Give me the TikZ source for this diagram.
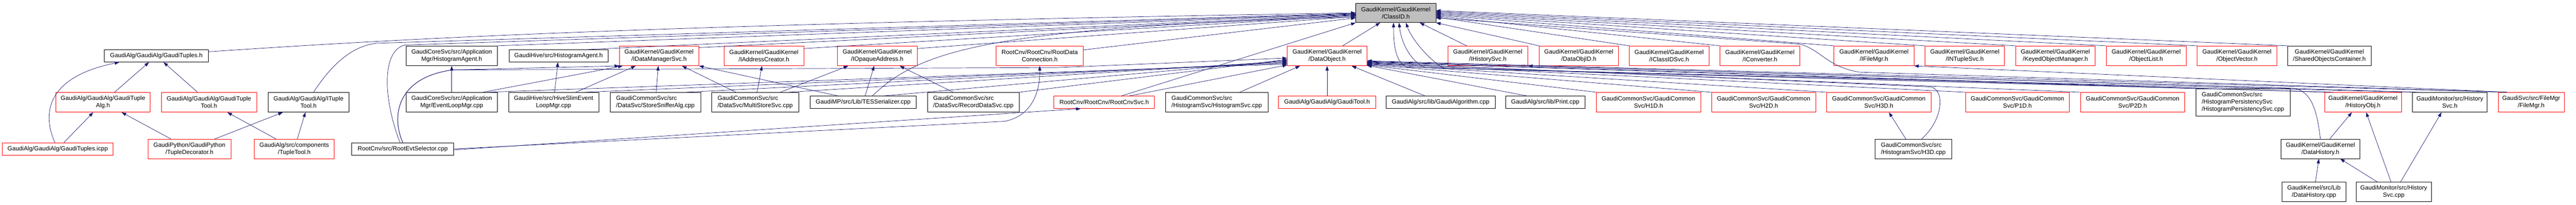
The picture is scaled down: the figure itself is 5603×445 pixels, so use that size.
\documentclass[tikz,border=0pt]{standalone}
\usepackage{fontspec}
\setmainfont{Liberation Sans}
\usetikzlibrary{arrows.meta}
\definecolor{edgeblue}{HTML}{191970}
\definecolor{focusgray}{HTML}{BFBFBF}

\begin{document}
\begin{tikzpicture}[x=1pt, y=-1pt,
    hdr/.style={draw=black, line width=0.8pt, inner sep=1pt, align=center,
      minimum height=43, font=\fontsize{13.2}{16}\selectfont},
    redhdr/.style={hdr, draw=red},
    lefthdr/.style={hdr, align=left},
    focus/.style={hdr, fill=focusgray},
    one/.style={minimum height=27},
    incl/.style={draw=edgeblue, line width=0.8pt, -{Triangle[length=10pt,width=7pt]}}]
  \useasboundingbox (0,0) rectangle (5603,445);
  % the file itself
  \node[focus, minimum width=174, minimum height=42] (cid) at (3036,28) {GaudiKernel/GaudiKernel\\/ClassID.h};
  % first row
  \node[hdr, one, minimum width=226] (tuples) at (340,121.5) {GaudiAlg/GaudiAlg/GaudiTuples.h};
  \node[hdr, minimum width=199] (hagentcore) at (982.5,121.5) {GaudiCoreSvc/src/Application\\Mgr/HistogramAgent.h};
  \node[hdr, one, minimum width=216] (hagenthive) at (1215,121.5) {GaudiHive/src/HistogramAgent.h};
  \node[redhdr, minimum width=173] (idms) at (1433.5,121.5) {GaudiKernel/GaudiKernel\\/IDataManagerSvc.h};
  \node[redhdr, minimum width=173] (iaddr) at (1661.5,121.5) {GaudiKernel/GaudiKernel\\/IAddressCreator.h};
  \node[redhdr, minimum width=174] (iopaque) at (1908,121.5) {GaudiKernel/GaudiKernel\\/IOpaqueAddress.h};
  \node[redhdr, minimum width=189] (rootconn) at (2261.5,121.5) {RootCnv/RootCnv/RootData\\Connection.h};
  \node[redhdr, minimum width=173] (dobj) at (2886.5,121.5) {GaudiKernel/GaudiKernel\\/DataObject.h};
  \node[redhdr, minimum width=174] (ihist) at (3236,121.5) {GaudiKernel/GaudiKernel\\/IHistorySvc.h};
  \node[redhdr, minimum width=172] (dobjid) at (3434,121.5) {GaudiKernel/GaudiKernel\\/DataObjID.h};
  \node[redhdr, minimum width=173] (iclsvc) at (3630.5,121.5) {GaudiKernel/GaudiKernel\\/IClassIDSvc.h};
  \node[redhdr, minimum width=174] (iconv) at (3828,121.5) {GaudiKernel/GaudiKernel\\/IConverter.h};
  \node[redhdr, minimum width=174] (ifile) at (4076,121.5) {GaudiKernel/GaudiKernel\\/IFileMgr.h};
  \node[redhdr, minimum width=173] (intuple) at (4273.5,121.5) {GaudiKernel/GaudiKernel\\/INTupleSvc.h};
  \node[redhdr, minimum width=173] (keyed) at (4470.5,121.5) {GaudiKernel/GaudiKernel\\/KeyedObjectManager.h};
  \node[redhdr, minimum width=174] (olist) at (4668,121.5) {GaudiKernel/GaudiKernel\\/ObjectList.h};
  \node[redhdr, minimum width=173] (ovec) at (4865.5,121.5) {GaudiKernel/GaudiKernel\\/ObjectVector.h};
  \node[hdr, minimum width=181] (shared) at (5066.5,121.5) {GaudiKernel/GaudiKernel\\/SharedObjectsContainer.h};
  % second row
  \node[redhdr, minimum width=206] (tuplealg) at (224,222.5) {GaudiAlg/GaudiAlg/GaudiTuple\\Alg.h};
  \node[redhdr, minimum width=207] (tupletool) at (454.5,222.5) {GaudiAlg/GaudiAlg/GaudiTuple\\Tool.h};
  \node[hdr, minimum width=176] (ituple) at (671,222.5) {GaudiAlg/GaudiAlg/ITuple\\Tool.h};
  \node[hdr, minimum width=199] (evtloop) at (982.5,222.5) {GaudiCoreSvc/src/Application\\Mgr/EventLoopMgr.cpp};
  \node[hdr, minimum width=196] (hiveslim) at (1204,222.5) {GaudiHive/src/HiveSlimEvent\\LoopMgr.cpp};
  \node[lefthdr, minimum width=197] (sniffer) at (1425.5,222.5) {GaudiCommonSvc/src\\/DataSvc/StoreSnifferAlg.cpp};
  \node[lefthdr, minimum width=189] (multistore) at (1642.5,222.5) {GaudiCommonSvc/src\\/DataSvc/MultiStoreSvc.cpp};
  \node[hdr, one, minimum width=231] (tesser) at (1877.5,222.5) {GaudiMP/src/Lib/TESSerializer.cpp};
  \node[lefthdr, minimum width=200] (recorddata) at (2117,222.5) {GaudiCommonSvc/src\\/DataSvc/RecordDataSvc.cpp};
  \node[redhdr, one, minimum width=219] (rootcnvsvc) at (2401.5,222.5) {RootCnv/RootCnv/RootCnvSvc.h};
  \node[lefthdr, minimum width=223] (histsvc) at (2646.5,222.5) {GaudiCommonSvc/src\\/HistogramSvc/HistogramSvc.cpp};
  \node[redhdr, one, minimum width=211] (gauditool) at (2886.5,222.5) {GaudiAlg/GaudiAlg/GaudiTool.h};
  \node[hdr, one, minimum width=237] (gaudialgcpp) at (3133.5,222.5) {GaudiAlg/src/lib/GaudiAlgorithm.cpp};
  \node[hdr, one, minimum width=172] (print) at (3361,222.5) {GaudiAlg/src/lib/Print.cpp};
  \node[redhdr, minimum width=227] (h1d) at (3585.5,222.5) {GaudiCommonSvc/GaudiCommon\\Svc/H1D.h};
  \node[redhdr, minimum width=226] (h2d) at (3836,222.5) {GaudiCommonSvc/GaudiCommon\\Svc/H2D.h};
  \node[redhdr, minimum width=227] (h3d) at (4086.5,222.5) {GaudiCommonSvc/GaudiCommon\\Svc/H3D.h};
  \node[redhdr, minimum width=226] (p1d) at (4388,222.5) {GaudiCommonSvc/GaudiCommon\\Svc/P1D.h};
  \node[redhdr, minimum width=227] (p2d) at (4638.5,222.5) {GaudiCommonSvc/GaudiCommon\\Svc/P2D.h};
  \node[lefthdr, minimum width=205, minimum height=59] (histpers) at (4878.5,222.5) {GaudiCommonSvc/src\\/HistogramPersistencySvc\\/HistogramPersistencySvc.cpp};
  \node[redhdr, minimum width=167] (historyobj) at (5139.5,222.5) {GaudiKernel/GaudiKernel\\/HistoryObj.h};
  \node[hdr, minimum width=163] (historysvch) at (5328.5,222.5) {GaudiMonitor/src/History\\Svc.h};
  \node[redhdr, minimum width=143] (filemgr) at (5505.5,222.5) {GaudiSvc/src/FileMgr\\/FileMgr.h};
  % third and fourth rows
  \node[redhdr, one, minimum width=241] (icpp) at (125.5,324) {GaudiAlg/GaudiAlg/GaudiTuples.icpp};
  \node[redhdr, minimum width=180, minimum height=42] (tupledeco) at (412,324) {GaudiPython/GaudiPython\\/TupleDecorator.h};
  \node[redhdr, minimum width=174, minimum height=42] (ttool) at (640,324) {GaudiAlg/src/components\\/TupleTool.h};
  \node[hdr, one, minimum width=222] (evtsel) at (876,324) {RootCnv/src/RootEvtSelector.cpp};
  \node[lefthdr, minimum width=167, minimum height=42] (h3dcpp) at (4161.5,324) {GaudiCommonSvc/src\\/HistogramSvc/H3D.cpp};
  \node[hdr, minimum width=172, minimum height=42] (datahisth) at (5047,324) {GaudiKernel/GaudiKernel\\/DataHistory.h};
  \node[hdr, minimum width=138] (datahistcpp) at (5033,417.5) {GaudiKernel/src/Lib\\/DataHistory.cpp};
  \node[hdr, minimum width=163] (historysvccpp) at (5206.5,417.5) {GaudiMonitor/src/History\\Svc.cpp};

  % tuples
  \draw[incl] (tuplealg) -- (tuples);
  \draw[incl] (tupletool) -- (tuples);
  \draw[incl] ([xshift=-6]icpp.north) .. controls (92,250) and (98,168) .. ([xshift=33]tuples.south west);
  \draw[incl] (icpp) -- (tuplealg);
  \draw[incl] (tupledeco) -- (tuplealg);
  \draw[incl] (tupledeco) -- (ituple);
  \draw[incl] (ttool) -- (tupletool);
  \draw[incl] (ttool) -- (ituple);
  \draw[incl] ([yshift=9]tuples.east) .. controls (800,90) and (1300,55) .. (cid.west);
  \draw[incl] ([xshift=11]ituple.north) .. controls (715,150) and (760,100) .. (820,94) -- ([yshift=-1]cid.west);
  % root event selector
  \draw[incl] ([xshift=-6]evtsel.north) .. controls (835,220) and (828,112) .. (880,98) -- ([yshift=-2]cid.west);
  \draw[incl] (evtsel.north) .. controls (850,250) and (865,168) .. (985,152) -- (idms.south west);
  \draw[incl] (evtsel.north) .. controls (850,250) and (865,168) .. (985,152) -- (2300,147) -- ([yshift=17]dobj.south west);
  \draw[incl] (evtsel.east) -- (2185,264) .. controls (2245,252) and (2262,200) .. (rootconn.south);
  \draw[incl] ([yshift=-2]evtsel.east) -- ([xshift=-51]rootcnvsvc.south);
  % managers and agents
  \draw[incl] (hagentcore.north east) -- ([yshift=-3]cid.west);
  \draw[incl] (evtloop) -- (hagentcore);
  \draw[incl] ([xshift=-32]evtloop.north east) -- ([xshift=8]idms.south west);
  \draw[incl] ([xshift=-22]evtloop.north east) -- ([yshift=4]dobj.south west);
  \draw[incl] ([xshift=-46]hagenthive.north east) -- ([yshift=-4]cid.west);
  \draw[incl] (hiveslim) -- (hagenthive);
  \draw[incl] ([xshift=-50]hiveslim.north east) -- ([xshift=36]idms.south west);
  \draw[incl] ([xshift=-30]hiveslim.north east) -- ([yshift=6]dobj.south west);
  % data services
  \draw[incl] ([yshift=-4]idms.north east) -- ([yshift=-5]cid.west);
  \draw[incl] (sniffer) -- (idms);
  \draw[incl] ([xshift=-32]sniffer.north east) -- ([yshift=8]dobj.south west);
  \draw[incl] ([xshift=-42]multistore.north) -- ([xshift=50]idms.south);
  \draw[incl] (multistore) -- (iaddr);
  \draw[incl] ([xshift=55]multistore.north) -- ([xshift=-63]iopaque.south);
  \draw[incl] ([xshift=-22]multistore.north east) -- ([yshift=10]dobj.south west);
  \draw[incl] ([yshift=-6]iaddr.north east) -- ([yshift=-6]cid.west);
  \draw[incl] ([xshift=-55]tesser.north) -- (idms.south east);
  \draw[incl] (tesser) -- (iopaque);
  \draw[incl] ([xshift=20]tesser.north) .. controls (2000,110) and (2150,60) .. ([yshift=-9]cid.west);
  \draw[incl] ([xshift=45]tesser.north) -- ([yshift=12]dobj.south west);
  \draw[incl] ([yshift=-6]iopaque.north east) -- ([yshift=-8]cid.west);
  \draw[incl] ([xshift=-44]recorddata.north) -- ([xshift=49]iopaque.south);
  \draw[incl] (recorddata.north east) -- ([yshift=14]dobj.south west);
  \draw[incl] ([yshift=-9]rootconn.north east) -- ([yshift=-11]cid.west);
  \draw[incl] ([xshift=38]rootcnvsvc.north) -- (cid.south west);
  \draw[incl] ([xshift=55]rootcnvsvc.north) -- ([yshift=2]dobj.south west);
  \draw[incl] ([xshift=50]histsvc.north) -- ([xshift=28]dobj.south west);
  % data object and the kernel interfaces
  \draw[incl] ([xshift=34]dobj.north) -- ([xshift=-34]cid.south);
  \draw[incl] (gauditool) -- (dobj);
  \draw[incl] (gaudialgcpp) -- (dobj);
  \draw[incl] ([xshift=-40]print.north) -- ([yshift=1]dobj.south east);
  \draw[incl] ([xshift=-46]ihist.north) -- ([xshift=52]cid.south);
  \draw[incl] (dobjid.north west) -- (cid.south east);
  \draw[incl] (iclsvc.north west) -- ([yshift=-9]cid.east);
  \draw[incl] (iconv.north west) -- ([yshift=-7]cid.east);
  \draw[incl] (ifile.north west) -- ([yshift=-5]cid.east);
  \draw[incl] (intuple.north west) -- ([yshift=-3]cid.east);
  \draw[incl] (keyed.north west) -- ([yshift=-1]cid.east);
  \draw[incl] (olist.north west) -- ([yshift=1]cid.east);
  \draw[incl] (ovec.north west) -- ([yshift=3]cid.east);
  \draw[incl] (shared.north west) -- ([yshift=5]cid.east);
  % histograms
  \draw[incl] (h1d.north west) -- ([yshift=2]dobj.south east);
  \draw[incl] (h2d.north west) -- ([yshift=3]dobj.south east);
  \draw[incl] (h3d.north west) -- ([yshift=4]dobj.south east);
  \draw[incl] (p1d.north west) -- ([yshift=5]dobj.south east);
  \draw[incl] (p2d.north west) -- ([yshift=6]dobj.south east);
  \draw[incl] ([xshift=-16]h3dcpp.north) -- ([xshift=22]h3d.south);
  \draw[incl] ([xshift=18]h3dcpp.north) .. controls (4225,262) and (4232,198) .. (4200,189) -- ([yshift=7]dobj.south east);
  \draw[incl] (histpers.north west) -- ([yshift=8]dobj.south east);
  \draw[incl] ([xshift=20]histpers.north west) -- (3060,146) .. controls (3036,136) and (3031,100) .. ([xshift=-5]cid.south);
  % history
  \draw[incl] (historyobj.north west) -- ([yshift=9]dobj.south east);
  \draw[incl] ([xshift=20]historyobj.north west) -- (3100,147) .. controls (3070,135) and (3048,95) .. ([xshift=7]cid.south);
  \draw[incl] (historysvch.north west) -- (3140,148) .. controls (3110,132) and (3070,85) .. ([xshift=22]cid.south);
  \draw[incl] ([xshift=14]historysvch.north west) -- (ihist.south east);
  \draw[incl] (datahisth.north) .. controls (5040,245) and (5030,200) .. (4990,192) -- ([yshift=10]dobj.south east);
  \draw[incl] ([xshift=20]datahisth.north) -- ([xshift=-24]historyobj.south);
  \draw[incl] (datahistcpp) -- (datahisth);
  \draw[incl] ([xshift=-36]historysvccpp.north) -- ([xshift=43]datahisth.south);
  \draw[incl] ([xshift=-6]historysvccpp.north) -- ([xshift=7]historyobj.south);
  \draw[incl] ([xshift=15]historysvccpp.north) -- ([xshift=-18]historysvch.south);
  % file manager
  \draw[incl] ([xshift=19]filemgr.north west) -- ([yshift=11]dobj.south east);
  \draw[incl] ([xshift=19]filemgr.north west) -- (4045,157) .. controls (3975,146) and (3960,108) .. (3915,96) -- ([yshift=-11]cid.east);
  \draw[incl] ([xshift=19]filemgr.north west) -- (ifile.south east);
\end{tikzpicture}
\end{document}
